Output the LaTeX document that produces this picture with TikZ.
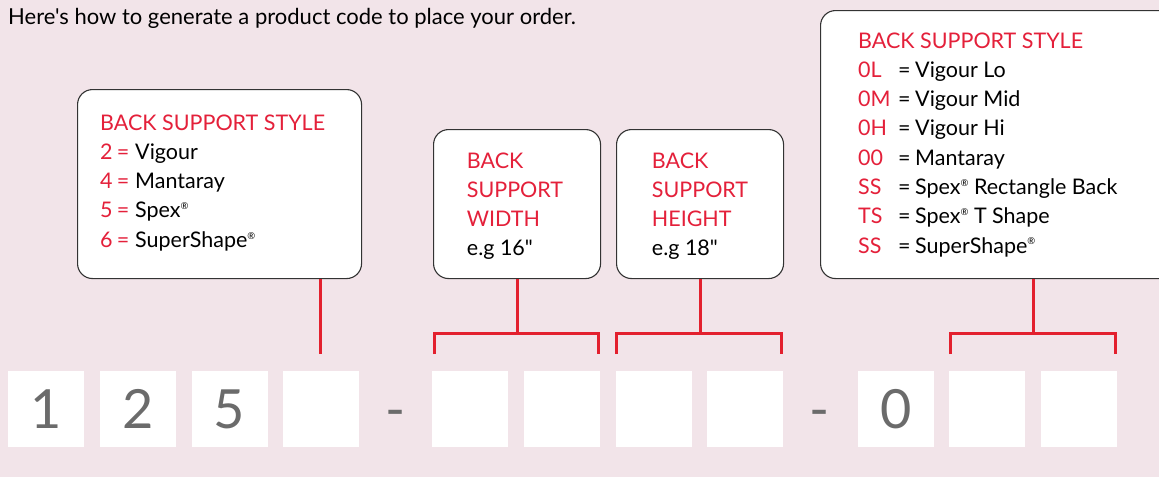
\documentclass[tikz,border=0pt]{standalone}
\usepackage{fontspec}
\setmainfont{Lato}[Ligatures=TeXOff]
\definecolor{bg}{HTML}{F2E4E9}
\definecolor{linered}{HTML}{E3202E}
\definecolor{labred}{HTML}{E4203A}
\definecolor{digit}{HTML}{6B6B6B}
\definecolor{boxline}{HTML}{333333}
\newcommand{\regmark}{\raisebox{0.75ex}{\fontsize{9.5}{9.5}\selectfont ®}}
\newcommand{\rowA}[2]{\makebox[16.7pt][l]{\textcolor{labred}{#1}}\makebox[18.3pt][l]{\textcolor{labred}{=}}#2}
\newcommand{\rowB}[2]{\makebox[40pt][l]{\textcolor{labred}{#1}}\makebox[17pt][l]{=}#2}
\begin{document}
\begin{tikzpicture}[x=1pt,y=-1pt,
  infobox/.style={draw=boxline, line width=1.1pt, fill=white, rounded corners=15pt, inner sep=0pt, anchor=north west},
  cell/.style={fill=white, minimum width=76pt, minimum height=76pt, inner sep=0pt, anchor=north west, text=digit, font=\fontsize{54}{54}\selectfont},
  sep/.style={anchor=base, inner sep=0pt, text=digit, font=\fontsize{54}{54}\selectfont},
  redline/.style={draw=linered, line width=3pt},
  lab/.style={anchor=base west, inner sep=0pt, font=\fontsize{21.5}{29.3}\selectfont},
]
\useasboundingbox[fill=bg] (0,0) rectangle (1159,477);
\clip (0,0) rectangle (1159,477);

\node[anchor=base west, inner sep=0pt, font=\fontsize{22}{24}\selectfont] (title) at (8,24) {Here's how to generate a product code to place your order.};

% info boxes
\node[infobox, minimum width=284pt, minimum height=189pt] (box1) at (77,89) {};
\node[infobox, minimum width=167pt, minimum height=149pt] (box2) at (433,129) {};
\node[infobox, minimum width=167pt, minimum height=149pt] (box3) at (616,129) {};
\node[infobox, minimum width=360pt, minimum height=268pt] (box4) at (820,10) {};

\node[lab] (t1) at (100,130) {\begin{tabular}[t]{@{}l@{}}
\textcolor{labred}{BACK SUPPORT STYLE}\\
\rowA{2}{Vigour}\\
\rowA{4}{Mantaray}\\
\rowA{5}{Spex\regmark}\\
\rowA{6}{SuperShape\regmark}
\end{tabular}};

\node[lab] (t2) at (466.7,168) {\begin{tabular}[t]{@{}l@{}}
\textcolor{labred}{BACK}\\
\textcolor{labred}{SUPPORT}\\
\textcolor{labred}{WIDTH}\\
e.g 16"
\end{tabular}};

\node[lab] (t3) at (651.7,168) {\begin{tabular}[t]{@{}l@{}}
\textcolor{labred}{BACK}\\
\textcolor{labred}{SUPPORT}\\
\textcolor{labred}{HEIGHT}\\
e.g 18"
\end{tabular}};

\node[lab] (t4) at (858,48) {\begin{tabular}[t]{@{}l@{}}
\textcolor{labred}{BACK SUPPORT STYLE}\\
\rowB{0L}{Vigour Lo}\\
\rowB{0M}{Vigour Mid}\\
\rowB{0H}{Vigour Hi}\\
\rowB{00}{Mantaray}\\
\rowB{SS}{Spex\regmark{} Rectangle Back}\\
\rowB{TS}{Spex\regmark{} T Shape}\\
\rowB{SS}{SuperShape\regmark}
\end{tabular}};

% code cells
\node[cell] (c1) at (8,371) {1};
\node[cell] (c2) at (99.7,371) {2};
\node[cell] (c3) at (191.3,371) {5};
\node[cell] (c4) at (283,371) {};
\node[sep] (d1) at (395.5,428) {-};
\node[cell] (c5) at (432,371) {};
\node[cell] (c6) at (523.7,371) {};
\node[cell] (c7) at (615.3,371) {};
\node[cell] (c8) at (707,371) {};
\node[sep] (d2) at (820,428) {-};
\node[cell] (c9) at (857.5,371) {0};
\node[cell] (c10) at (949.2,371) {};
\node[cell] (c11) at (1041,371) {};

% connectors
\coordinate (e1) at (320.7,354);
\draw[redline] (box1.south -| e1) -- (e1);

\coordinate (b1l) at (434,354);
\coordinate (b1r) at (598.3,354);
\draw[redline] (box2.south) -- (box2.south |- 0,333);
\draw[redline] (b1l) -- (b1l |- 0,333) -- (b1r |- 0,333) -- (b1r);

\coordinate (b2l) at (616.7,354);
\coordinate (b2r) at (781,354);
\draw[redline] (box3.south) -- (box3.south |- 0,333);
\draw[redline] (b2l) -- (b2l |- 0,333) -- (b2r |- 0,333) -- (b2r);

\coordinate (b3m) at (1033,333);
\coordinate (b3l) at (950.3,354);
\coordinate (b3r) at (1115.7,354);
\draw[redline] (box4.south -| b3m) -- (b3m);
\draw[redline] (b3l) -- (b3l |- 0,333) -- (b3r |- 0,333) -- (b3r);
\end{tikzpicture}
\end{document}
